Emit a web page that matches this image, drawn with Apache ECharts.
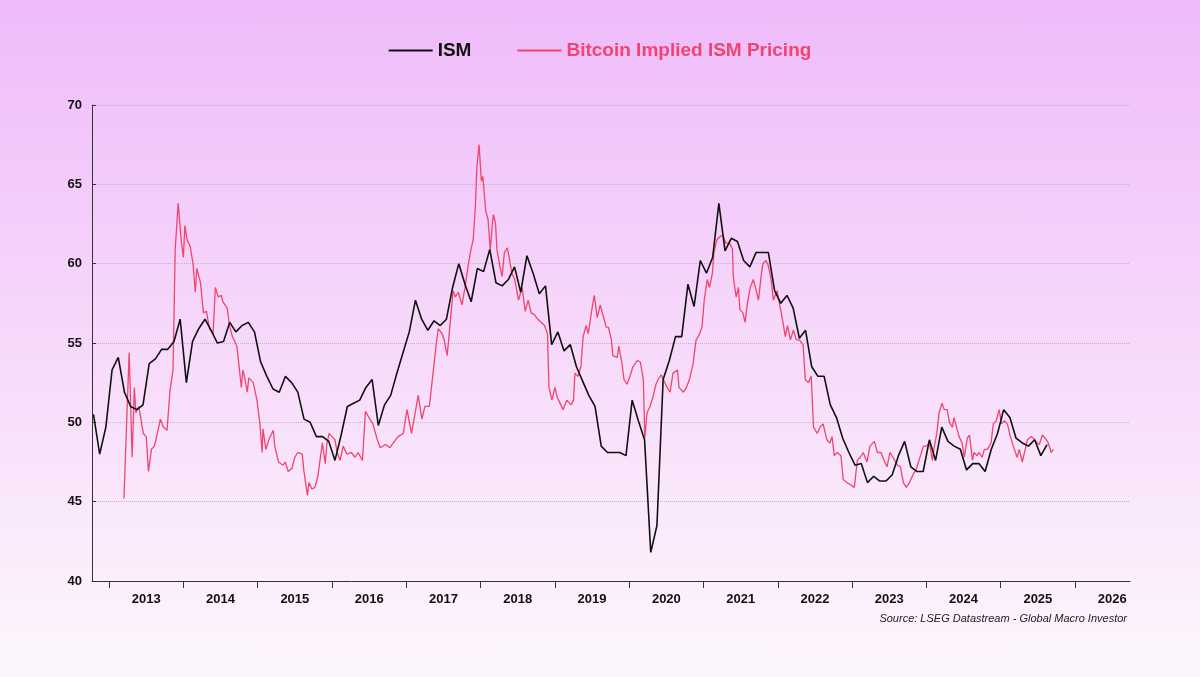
<!DOCTYPE html>
<html>
<head>
<meta charset="utf-8">
<script src="https://cdn.jsdelivr.net/npm/echarts@6/dist/echarts.min.js"></script>
<style>
html,body{margin:0;padding:0;}
body{width:1200px;height:677px;background:linear-gradient(to bottom,#efbbfb 0%,#f6d6fa 45%,#fdf7fd 100%);}
#ism{width:1200px;height:677px;}
</style>
</head>
<body>
<div id="ism"></div>
<script>
// ISM manufacturing, monthly from Oct 2012
var ism_list = [
  50.5, 48.0, 49.7, 53.3, 54.1, 51.9, 51.0, 50.8, 51.1, 53.7, 54.0, 54.6, 54.6, 55.1, 56.5, 52.5, 55.1, 55.9, 56.5, 55.8,
  55.0, 55.1, 56.3, 55.7, 56.1, 56.3, 55.7, 53.8, 52.9, 52.1, 51.9, 52.9, 52.5, 51.9, 50.2, 50.0, 49.1, 49.1, 48.8, 47.6,
  49.2, 51.0, 51.2, 51.4, 52.2, 52.7, 49.8, 51.1, 51.7, 53.1, 54.4, 55.7, 57.7, 56.5, 55.8, 56.4, 56.1, 56.5,
  58.5, 60.0, 58.7, 57.6, 59.7, 59.5, 60.9, 58.8, 58.6, 59.0, 59.8, 58.2, 60.5, 59.4, 58.1, 58.6, 54.9, 55.7, 54.5, 54.9,
  53.5, 52.6, 51.7, 51.0, 48.5, 48.1, 48.1, 48.1, 47.9, 51.4, 50.1, 48.9, 41.8,
  43.5, 52.7, 53.9, 55.4, 55.4, 58.7, 57.3, 60.2, 59.4, 60.4, 63.8, 60.8, 61.6, 61.4, 60.2, 59.8, 60.7, 60.7, 60.7, 58.3,
  57.5, 58.0, 57.2, 55.3, 55.8, 53.5, 52.9, 52.9, 51.1, 50.3, 49.0, 48.1, 47.3, 47.4, 46.2, 46.6, 46.3, 46.3, 46.7, 47.9,
  48.8, 47.2, 46.9, 46.9, 48.9, 47.6, 49.7, 48.8, 48.5, 48.3, 47.0, 47.4, 47.4, 46.9, 48.3, 49.3, 50.8, 50.3, 49.0, 48.7,
  48.5, 48.9, 47.9, 48.6
];
var ism_data = [];
for (var i = 0; i < ism_list.length; i++) {
    ism_data.push([2012.79 + i / 12, ism_list[i]]);
}

// Bitcoin implied ISM pricing [year, value]
var btc_data = [
  [2013.20,45.2],[2013.27,54.4],[2013.31,47.8],[2013.34,52.2],[2013.36,50.6],[2013.40,51.0],[2013.46,49.3],[2013.50,49.1],
  [2013.53,46.9],[2013.57,48.3],[2013.61,48.5],[2013.65,49.3],[2013.69,50.2],[2013.73,49.7],[2013.78,49.5],[2013.82,52.0],
  [2013.86,53.3],[2013.89,60.9],[2013.93,63.8],[2013.97,61.5],[2014.00,60.4],[2014.02,62.4],[2014.05,61.5],[2014.09,61.1],
  [2014.13,60.0],[2014.16,58.2],[2014.18,59.7],[2014.23,58.8],[2014.27,56.9],[2014.31,57.0],[2014.35,55.9],[2014.40,55.6],
  [2014.43,58.5],[2014.47,57.9],[2014.51,58.0],[2014.53,57.6],[2014.59,57.2],[2014.62,56.1],[2014.66,55.4],[2014.68,55.2],
  [2014.72,54.8],[2014.75,53.5],[2014.78,52.2],[2014.80,53.3],[2014.83,52.7],[2014.86,51.9],[2014.88,52.8],[2014.94,52.5],
  [2014.99,51.4],[2015.03,49.9],[2015.06,48.1],[2015.07,49.6],[2015.11,48.3],[2015.15,48.9],[2015.21,49.5],[2015.23,48.5],
  [2015.28,47.5],[2015.34,47.3],[2015.37,47.5],[2015.41,46.9],[2015.46,47.1],[2015.50,47.8],[2015.54,48.1],[2015.60,48.0],
  [2015.62,47.0],[2015.67,45.4],[2015.69,46.2],[2015.73,45.8],[2015.77,45.9],[2015.81,46.6],[2015.87,48.7],[2015.91,47.4],
  [2015.93,48.6],[2015.96,49.3],[2016.00,49.1],[2016.04,48.9],[2016.07,48.1],[2016.11,47.6],[2016.15,48.5],[2016.20,48.0],
  [2016.26,48.1],[2016.31,47.8],[2016.35,48.1],[2016.41,47.6],[2016.45,50.7],[2016.47,50.8],[2016.51,50.2],[2016.55,49.9],
  [2016.61,48.9],[2016.65,48.4],[2016.72,48.6],[2016.78,48.4],[2016.84,48.8],[2016.89,49.1],[2016.96,49.3],[2017.01,50.8],
  [2017.07,49.3],[2017.12,50.6],[2017.16,51.7],[2017.21,50.2],[2017.25,51.0],[2017.31,51.0],[2017.36,53.1],[2017.40,54.8],
  [2017.43,55.9],[2017.48,55.6],[2017.51,55.2],[2017.55,54.2],[2017.58,55.7],[2017.63,58.3],[2017.66,57.9],[2017.70,58.2],
  [2017.75,57.4],[2017.79,58.5],[2017.83,59.8],[2017.87,60.9],[2017.90,61.5],[2017.93,63.6],[2017.95,66.1],[2017.98,67.5],
  [2018.01,65.2],[2018.03,65.5],[2018.07,63.3],[2018.10,62.8],[2018.13,60.9],[2018.17,63.1],[2018.20,62.6],[2018.22,60.9],
  [2018.26,59.8],[2018.29,59.2],[2018.32,60.7],[2018.36,61.0],[2018.38,60.5],[2018.42,59.4],[2018.46,59.0],[2018.51,57.7],
  [2018.56,58.5],[2018.60,57.0],[2018.64,57.7],[2018.68,56.9],[2018.72,56.8],[2018.77,56.5],[2018.86,56.1],[2018.90,55.6],
  [2018.92,52.2],[2018.96,51.4],[2019.00,52.2],[2019.03,51.6],[2019.08,51.1],[2019.11,50.8],[2019.16,51.4],[2019.22,51.1],
  [2019.25,51.4],[2019.27,53.1],[2019.31,52.9],[2019.35,53.5],[2019.38,55.4],[2019.42,56.1],[2019.45,55.6],[2019.50,57.2],
  [2019.53,58.0],[2019.57,56.6],[2019.61,57.4],[2019.65,56.7],[2019.69,56.0],[2019.72,56.0],[2019.76,55.2],[2019.78,54.2],
  [2019.84,54.1],[2019.86,54.8],[2019.90,53.8],[2019.93,52.7],[2019.97,52.4],[2020.01,52.9],[2020.05,53.5],[2020.11,53.9],
  [2020.15,53.8],[2020.19,52.7],[2020.21,49.0],[2020.24,50.6],[2020.28,51.0],[2020.32,51.6],[2020.36,52.4],[2020.39,52.7],
  [2020.43,53.0],[2020.46,52.7],[2020.51,52.2],[2020.55,51.9],[2020.59,53.1],[2020.65,53.3],[2020.67,52.2],[2020.73,51.9],
  [2020.77,52.2],[2020.81,52.7],[2020.86,53.7],[2020.90,55.2],[2020.94,55.5],[2020.98,56.0],[2021.01,57.7],[2021.05,59.0],
  [2021.08,58.5],[2021.12,59.4],[2021.14,60.7],[2021.18,61.5],[2021.22,61.7],[2021.26,61.8],[2021.30,61.3],[2021.35,61.3],
  [2021.39,60.9],[2021.40,59.2],[2021.44,57.9],[2021.47,58.5],[2021.49,57.1],[2021.53,56.9],[2021.56,56.3],[2021.59,57.5],
  [2021.63,58.5],[2021.67,59.0],[2021.71,58.3],[2021.74,57.7],[2021.78,59.4],[2021.80,60.0],[2021.84,60.2],[2021.87,59.9],
  [2021.91,59.0],[2021.94,57.7],[2021.99,58.3],[2022.03,57.3],[2022.07,56.3],[2022.10,55.4],[2022.13,56.1],[2022.17,55.2],
  [2022.21,55.8],[2022.25,55.2],[2022.29,55.2],[2022.34,54.9],[2022.37,52.7],[2022.41,52.5],[2022.45,52.9],[2022.48,49.7],
  [2022.53,49.3],[2022.57,49.7],[2022.61,49.9],[2022.66,48.9],[2022.70,48.7],[2022.73,49.1],[2022.76,47.9],[2022.80,48.1],
  [2022.85,47.9],[2022.88,46.4],[2022.93,46.2],[2022.97,46.1],[2023.03,45.9],[2023.07,47.6],[2023.11,47.8],[2023.15,48.1],
  [2023.20,47.5],[2023.24,48.5],[2023.30,48.8],[2023.34,48.1],[2023.39,48.1],[2023.43,47.6],[2023.47,47.2],[2023.51,48.1],
  [2023.55,47.8],[2023.61,47.3],[2023.65,47.2],[2023.69,46.2],[2023.73,45.9],[2023.77,46.2],[2023.82,46.7],[2023.86,47.0],
  [2023.90,47.6],[2023.96,48.5],[2024.00,48.5],[2024.04,48.7],[2024.08,47.6],[2024.10,48.3],[2024.14,49.3],[2024.17,50.6],
  [2024.21,51.2],[2024.24,50.8],[2024.28,50.8],[2024.31,50.0],[2024.35,49.7],[2024.37,50.3],[2024.41,49.6],[2024.44,49.1],
  [2024.48,48.7],[2024.51,47.8],[2024.55,49.0],[2024.58,49.2],[2024.62,47.6],[2024.64,48.1],[2024.68,47.9],[2024.71,48.1],
  [2024.75,47.8],[2024.78,48.3],[2024.82,48.3],[2024.87,48.7],[2024.90,49.9],[2024.94,50.1],[2024.98,50.8],[2025.01,49.9],
  [2025.05,50.1],[2025.09,49.9],[2025.13,49.1],[2025.17,48.5],[2025.22,47.8],[2025.25,48.3],[2025.29,47.5],[2025.33,48.3],
  [2025.36,48.9],[2025.41,49.1],[2025.44,49.0],[2025.49,48.7],[2025.52,48.6],[2025.56,49.2],[2025.60,49.0],[2025.64,48.7],
  [2025.68,48.1],[2025.71,48.3],[2025.73,48.3]
];

var year_ticks = [], year_labels = [];
for (var y = 2013; y <= 2026; y++) {
    year_ticks.push(y);
    year_labels.push(y + 0.5);
}

var ism_chart = echarts.init(document.getElementById('ism'));
var ism_option = {
    backgroundColor: 'transparent',
    textStyle: { fontFamily: 'Liberation Sans, Arial, sans-serif' },
    legend: {
        top: 36,
        left: 'center',
        itemGap: 46,
        itemWidth: 44,
        itemHeight: 2,
        icon: 'rect',
        textStyle: { fontSize: 19, fontWeight: 'bold' },
        data: [
            { name: 'ISM', textStyle: { color: '#111111' } },
            { name: 'Bitcoin Implied ISM Pricing', textStyle: { color: '#f0456e' } }
        ]
    },
    grid: { left: 92, right: 70, top: 105, bottom: 96 },
    xAxis: {
        type: 'value',
        min: 2012.77,
        max: 2026.74,
        axisLine: { lineStyle: { color: '#333333', width: 1 } },
        axisTick: { show: true, customValues: year_ticks, length: 7, lineStyle: { color: '#333333' } },
        axisLabel: {
            customValues: year_labels,
            formatter: function (v) { return Math.floor(v); },
            color: '#111111', fontSize: 13, fontWeight: 'bold', margin: 12
        },
        splitLine: { show: false }
    },
    yAxis: {
        type: 'value',
        min: 40,
        max: 70,
        interval: 5,
        axisLine: { show: true, lineStyle: { color: '#333333', width: 1 } },
        axisTick: { show: true, inside: true, length: 4, lineStyle: { color: '#333333' } },
        axisLabel: { color: '#111111', fontSize: 13, fontWeight: 'bold', margin: 10 },
        splitLine: { show: true, lineStyle: { color: '#c4b2c8', type: 'dotted', width: 1 } }
    },
    series: [
        {
            name: 'ISM',
            type: 'line',
            data: ism_data,
            showSymbol: false,
            z: 3,
            lineStyle: { color: '#111111', width: 1.6 },
            itemStyle: { color: '#111111' }
        },
        {
            name: 'Bitcoin Implied ISM Pricing',
            type: 'line',
            data: btc_data,
            showSymbol: false,
            z: 2,
            lineStyle: { color: '#f0456e', width: 1.3 },
            itemStyle: { color: '#f0456e' }
        }
    ],
    graphic: [
        {
            type: 'text',
            right: 73,
            top: 613,
            style: {
                text: 'Source: LSEG Datastream - Global Macro Investor',
                fontSize: 11, fontStyle: 'italic', fill: '#222222',
                fontFamily: 'Liberation Sans, Arial, sans-serif'
            }
        }
    ]
};
ism_chart.setOption(ism_option);
</script>
</body>
</html>
